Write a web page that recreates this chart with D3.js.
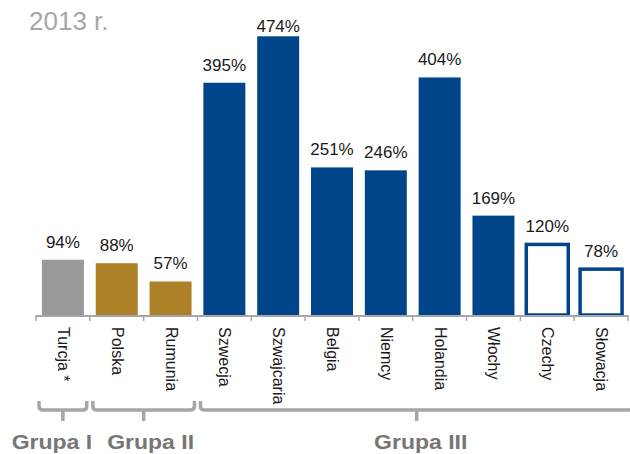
<!DOCTYPE html>
<html>
<head>
<meta charset="utf-8">
<script src="https://cdn.jsdelivr.net/npm/d3@7"></script>
<style>
  html, body { margin: 0; padding: 0; background: #fff; }
  svg { display: block; font-family: Arial, "Liberation Sans", sans-serif; }
</style>
</head>
<body>
<svg id="chart" width="630" height="454"></svg>
<script>
// Country ratios for 2013, in percent
const countries = ["Turcja *", "Polska", "Rumunia", "Szwecja", "Szwajcaria", "Belgia",
                   "Niemcy", "Holandia", "Włochy", "Czechy", "Słowacja"];
const values = [94, 88, 57, 395, 474, 251, 246, 404, 169, 120, 78];
const kinds = ["grey", "gold", "gold", "blue", "blue", "blue", "blue", "blue", "blue", "outline", "outline"];

// Groupings shown under the axis: first and last country of each group
const groupNames = ["Grupa I", "Grupa II", "Grupa III"];
const groupFirst = ["Turcja *", "Polska", "Szwecja"];
const groupLast = ["Turcja *", "Rumunia", "Słowacja"];

const title = "2013 r.";

const colors = { grey: "#999999", gold: "#AD8128", blue: "#00448A", outline: "#ffffff" };
const blue = "#00448A";
const axisGrey = "#A6A6A6";

const svg = d3.select("#chart");

const x = d3.scaleBand()
  .domain(countries)
  .range([36, 628])
  .paddingInner(0.22)
  .paddingOuter(0.11);

const y = d3.scaleLinear().domain([0, 500]).range([315, 21]);

const data = countries.map((c, i) => ({ country: c, value: values[i], kind: kinds[i] }));

// Title
svg.append("text")
  .attr("x", 29).attr("y", 30)
  .attr("font-size", 26)
  .attr("fill", "#A6A6A6")
  .text(title);

// Bars
svg.append("g").selectAll("rect")
  .data(data)
  .join("rect")
  .attr("x", d => x(d.country))
  .attr("y", d => y(d.value))
  .attr("width", x.bandwidth())
  .attr("height", d => y(0) - y(d.value))
  .attr("fill", d => colors[d.kind])
  .attr("stroke", d => d.kind === "outline" ? blue : "none")
  .attr("stroke-width", 3.5);

// Value labels, kept below the title band
svg.append("g").selectAll("text")
  .data(data)
  .join("text")
  .attr("x", d => x(d.country) + x.bandwidth() / 2)
  .attr("y", d => Math.max(y(d.value) - 12, 32))
  .attr("text-anchor", "middle")
  .attr("font-size", 17)
  .attr("fill", "#1a1a1a")
  .text(d => d.value + "%");

// Category axis: ticks at the band boundaries, labels rotated downward
const step = x.step();
const x0 = x.range()[0];
const axisG = svg.append("g");
axisG.append("line")
  .attr("x1", x0).attr("x2", x.range()[1])
  .attr("y1", y(0) + 1).attr("y2", y(0) + 1)
  .attr("stroke", axisGrey).attr("stroke-width", 2);
axisG.selectAll("line.tick")
  .data(d3.range(countries.length + 1))
  .join("line")
  .attr("class", "tick")
  .attr("x1", i => x0 + i * step).attr("x2", i => x0 + i * step)
  .attr("y1", y(0)).attr("y2", y(0) + 6)
  .attr("stroke", axisGrey).attr("stroke-width", 1.5);

axisG.selectAll("text")
  .data(countries)
  .join("text")
  .attr("transform", c => `translate(${x(c) + x.bandwidth() / 2 - 5},327) rotate(90)`)
  .attr("font-size", 16)
  .attr("fill", "#1a1a1a")
  .text(c => c);

// Group brackets
const bracketTop = 401, bracketLine = 410, stemBottom = 421;
const groups = groupNames.map((g, i) => {
  const left = x0 + countries.indexOf(groupFirst[i]) * step + 3;
  let right = x0 + (countries.indexOf(groupLast[i]) + 1) * step - 3;
  if (i === groupNames.length - 1) right += 8;
  return { name: g, left, right, mid: (left + right) / 2 };
});

const r = 4;
svg.append("g").selectAll("path")
  .data(groups)
  .join("path")
  .attr("d", g => {
    const p = d3.path();
    p.moveTo(g.left, bracketTop);
    p.lineTo(g.left, bracketLine - r);
    p.quadraticCurveTo(g.left, bracketLine, g.left + r, bracketLine);
    p.lineTo(g.right - r, bracketLine);
    p.quadraticCurveTo(g.right, bracketLine, g.right, bracketLine - r);
    p.lineTo(g.right, bracketTop);
    p.moveTo(g.mid, bracketLine);
    p.lineTo(g.mid, stemBottom);
    return p.toString();
  })
  .attr("fill", "none")
  .attr("stroke", axisGrey)
  .attr("stroke-width", 3.5);

// Group names (Grupa I sits slightly left of its bracket)
const labelShift = [-11, 7, 4];
svg.append("g").selectAll("text")
  .data(groups)
  .join("text")
  .attr("transform", (g, i) => `translate(${g.mid + labelShift[i]},449) scale(1.15,1)`)
  .attr("text-anchor", "middle")
  .attr("font-size", 20)
  .attr("font-weight", "bold")
  .attr("fill", "#767676")
  .text(g => g.name);
</script>
</body>
</html>
